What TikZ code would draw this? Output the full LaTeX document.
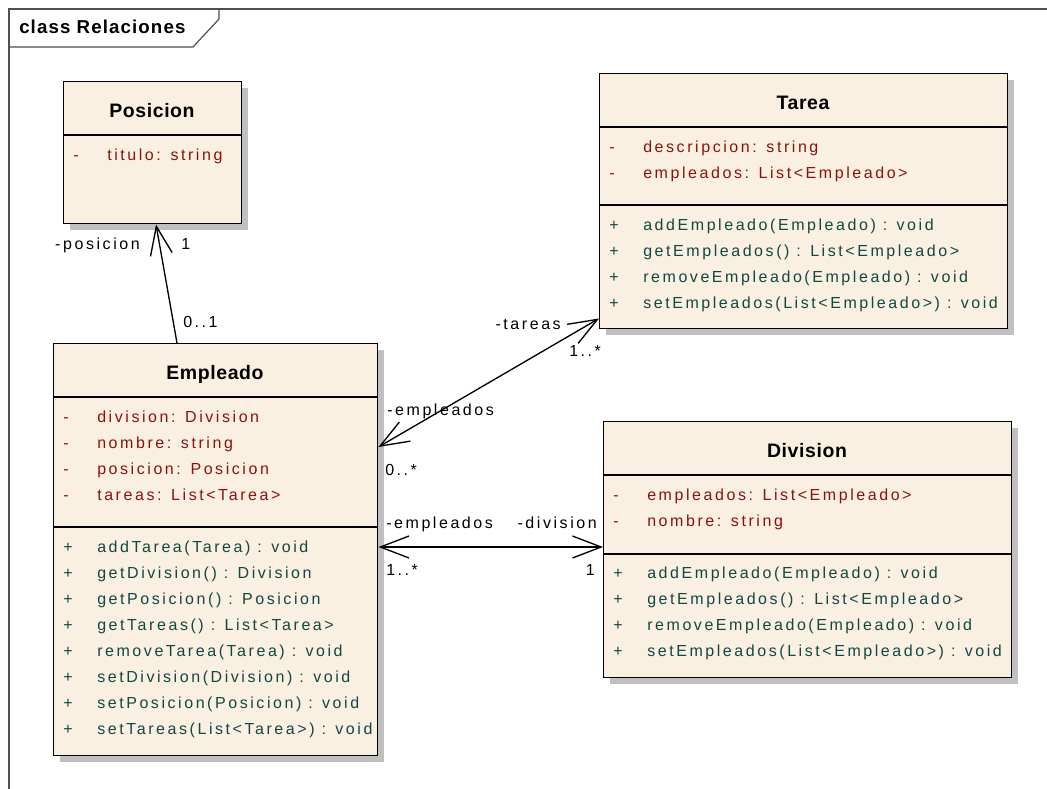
\documentclass[tikz,border=0pt]{standalone}
\usepackage{fontspec}
\setmainfont{Liberation Sans}
\newfontfamily\umltext{Liberation Sans}[LetterSpace=16]
\newfontfamily\umltitle{Liberation Sans}[LetterSpace=3]
\newfontfamily\umlframe{Liberation Sans}[LetterSpace=6]
\usetikzlibrary{arrows.meta,shadows,calc}

\definecolor{classfill}{RGB}{250,240,225}
\definecolor{shadowgray}{RGB}{192,192,192}
\definecolor{attrcol}{RGB}{140,16,16}
\definecolor{opcol}{RGB}{16,72,68}
\definecolor{framecol}{RGB}{80,80,80}

\tikzset{
  classbox/.style={draw=black, line width=1.1pt, fill=classfill, anchor=north west,
    inner sep=0pt, drop shadow={shadow xshift=4.5pt, shadow yshift=-4.5pt,
    fill=shadowgray, opacity=1}},
  sepline/.style={draw=black, line width=1.1pt},
  ttl/.style={anchor=base, inner sep=0pt,
    font={\umltitle\bfseries\fontsize{14.6pt}{17pt}\selectfont}},
  attrtxt/.style={anchor=base west, inner sep=0pt, text=attrcol,
    font={\umltext\fontsize{12pt}{14pt}\selectfont}},
  optxt/.style={anchor=base west, inner sep=0pt, text=opcol,
    font={\umltext\fontsize{12pt}{14pt}\selectfont}},
  lbl/.style={inner sep=0pt, text=black,
    font={\umltext\fontsize{12pt}{14pt}\selectfont}},
  assoc/.style={draw=black, line width=1pt},
  >={Straight Barb[length=21.5pt,width=16.5pt]}
}

% gap between an attribute name and its type
\newcommand\tgap{\ \hspace{2pt}}
% one attribute / operation row: name, box left x, baseline y, text
\newcommand\attrrow[4]{%
  \node[attrtxt] (#1s) at (#2+10,#3) {-};
  \node[attrtxt] (#1) at (#2+44,#3) {#4};}
\newcommand\oprow[4]{%
  \node[optxt] (#1s) at (#2+10,#3) {+};
  \node[optxt] (#1) at (#2+44,#3) {#4};}

\begin{document}
\begin{tikzpicture}[x=0.75pt,y=-0.75pt]
  \fill[white] (0,0) rectangle (1047,789);
  \useasboundingbox (0,0) rectangle (1047,789);

  % diagram frame and its name tab
  \draw[framecol, line width=0.9pt] (1047,9) -- (9,9) -- (9,789);
  \draw[framecol, line width=0.9pt] (9,47) -- (193,47) -- (219,19) -- (219,9);
  \node[anchor=base west, inner sep=0pt,
    font={\umlframe\bfseries\fontsize{14pt}{16pt}\selectfont}]
    (frametitle) at (19,33.5) {class Relaciones};

  % ---------- Posicion ----------
  \node[classbox, minimum width={178*0.75pt}, minimum height={142*0.75pt}]
    (posicion) at (63,81) {};
  \draw[sepline] ($(posicion.north west)+(0,54)$) -- ($(posicion.north east)+(0,54)$);
  \node[ttl] (posicion-t) at (152,117.5) {Posicion};
  \attrrow{pa1}{63}{160}{titulo:\tgap string}

  % ---------- Tarea ----------
  \node[classbox, minimum width={408*0.75pt}, minimum height={255*0.75pt}]
    (tarea) at (599,73) {};
  \draw[sepline] ($(tarea.north west)+(0,54)$) -- ($(tarea.north east)+(0,54)$);
  \draw[sepline] ($(tarea.north west)+(0,132)$) -- ($(tarea.north east)+(0,132)$);
  \node[ttl] (tarea-t) at (803,109.5) {Tarea};
  \attrrow{ta1}{599}{152.5}{descripcion:\tgap string}
  \attrrow{ta2}{599}{178.5}{empleados:\tgap List<Empleado>}
  \oprow{to1}{599}{230.5}{addEmpleado(Empleado) : void}
  \oprow{to2}{599}{256.5}{getEmpleados() : List<Empleado>}
  \oprow{to3}{599}{282.5}{removeEmpleado(Empleado) : void}
  \oprow{to4}{599}{308.5}{setEmpleados(List<Empleado>) : void}

  % ---------- Empleado ----------
  \node[classbox, minimum width={324*0.75pt}, minimum height={412*0.75pt}]
    (empleado) at (53,343) {};
  \draw[sepline] ($(empleado.north west)+(0,54)$) -- ($(empleado.north east)+(0,54)$);
  \draw[sepline] ($(empleado.north west)+(0,184)$) -- ($(empleado.north east)+(0,184)$);
  \node[ttl] (empleado-t) at (215,379.5) {Empleado};
  \attrrow{ea1}{53}{422}{division:\tgap Division}
  \attrrow{ea2}{53}{448}{nombre:\tgap string}
  \attrrow{ea3}{53}{474}{posicion:\tgap Posicion}
  \attrrow{ea4}{53}{500}{tareas:\tgap List<Tarea>}
  \oprow{eo1}{53}{552}{addTarea(Tarea) : void}
  \oprow{eo2}{53}{578}{getDivision() : Division}
  \oprow{eo3}{53}{604}{getPosicion() : Posicion}
  \oprow{eo4}{53}{630}{getTareas() : List<Tarea>}
  \oprow{eo5}{53}{656}{removeTarea(Tarea) : void}
  \oprow{eo6}{53}{682}{setDivision(Division) : void}
  \oprow{eo7}{53}{708}{setPosicion(Posicion) : void}
  \oprow{eo8}{53}{734}{setTareas(List<Tarea>) : void}

  % ---------- Division ----------
  \node[classbox, minimum width={408*0.75pt}, minimum height={256*0.75pt}]
    (division) at (603,421) {};
  \draw[sepline] ($(division.north west)+(0,54)$) -- ($(division.north east)+(0,54)$);
  \draw[sepline] ($(division.north west)+(0,133)$) -- ($(division.north east)+(0,133)$);
  \node[ttl] (division-t) at (807,457.5) {Division};
  \attrrow{da1}{603}{500}{empleados:\tgap List<Empleado>}
  \attrrow{da2}{603}{526}{nombre:\tgap string}
  \oprow{do1}{603}{578}{addEmpleado(Empleado) : void}
  \oprow{do2}{603}{604}{getEmpleados() : List<Empleado>}
  \oprow{do3}{603}{630}{removeEmpleado(Empleado) : void}
  \oprow{do4}{603}{656}{setEmpleados(List<Empleado>) : void}

  % ---------- associations ----------
  \coordinate (emp-up)   at ($(empleado.north west)+(124,0)$);
  \coordinate (pos-down) at ($(posicion.south west)+(93,0)$);
  \coordinate (emp-r1)   at ($(empleado.north east)+(0,104)$);
  \coordinate (tar-l)    at ($(tarea.south west)+(0,-11)$);
  \coordinate (emp-r2)   at ($(empleado.north east)+(0,204)$);
  \coordinate (div-l)    at ($(division.north west)+(0,126)$);

  \draw[assoc,->]  (emp-up) -- (pos-down);
  \draw[assoc,<->] (emp-r1) -- (tar-l);
  \draw[assoc,<->] (emp-r2) -- (div-l);

  % role names and multiplicities
  \node[lbl, anchor=base east] (l-posicion) at (140,249) {-posicion};
  \node[lbl, anchor=base west] (l-pos1)     at (181,249) {1};
  \node[lbl, anchor=base west] (l-emp01)    at (183,327) {0..1};
  \node[lbl, anchor=base east] (l-tareas)   at (561,329) {-tareas};
  \node[lbl, anchor=base west] (l-tar1n)    at (569,356) {1..*};
  \node[lbl, anchor=base west] (l-empl1)    at (387,415) {-empleados};
  \node[lbl, anchor=base west] (l-emp0n)    at (385,475) {0..*};
  \node[lbl, anchor=base west] (l-empl2)    at (386,528) {-empleados};
  \node[lbl, anchor=base east] (l-division) at (597,528) {-division};
  \node[lbl, anchor=base west] (l-emp1n)    at (386,575) {1..*};
  \node[lbl, anchor=base east] (l-div1)     at (595,575) {1};
\end{tikzpicture}
\end{document}
